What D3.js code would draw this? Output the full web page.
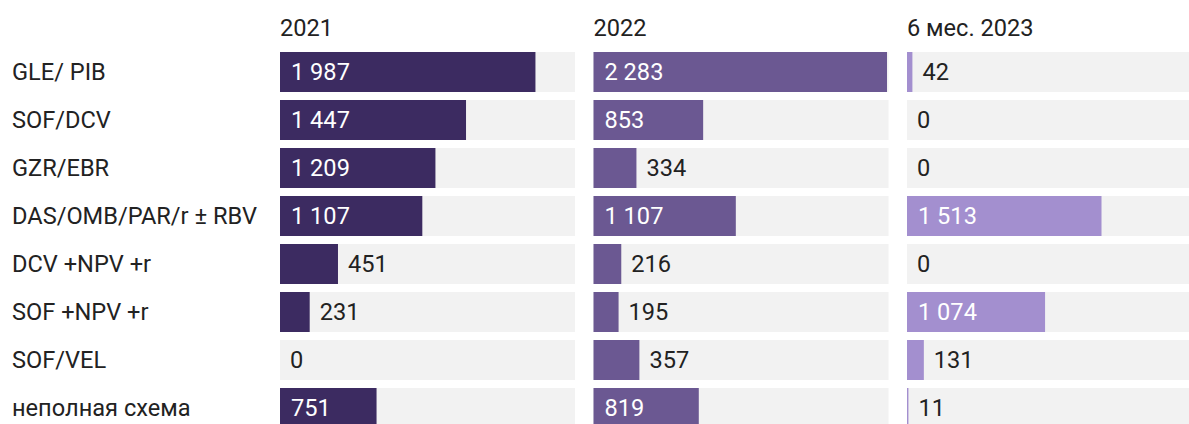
<!DOCTYPE html>
<html>
<head>
<meta charset="utf-8">
<script src="https://cdn.jsdelivr.net/npm/d3@7"></script>
<style>
  body { margin: 0; background: #fff; overflow: hidden; }
  text { font-family: Roboto, "Noto Sans", sans-serif; }
</style>
</head>
<body>
<div id="chart"></div>
<script>
// schemes and yearly counts
const categories = ["GLE/ PIB", "SOF/DCV", "GZR/EBR", "DAS/OMB/PAR/r ± RBV",
    "DCV +NPV +r", "SOF +NPV +r", "SOF/VEL", "неполная схема"];
const periods = ["2021", "2022", "6 мес. 2023"];
const values2021 = [1987, 1447, 1209, 1107, 451, 231, 0, 751];
const values2022 = [2283, 853, 334, 1107, 216, 195, 357, 819];
const values2023 = [42, 0, 0, 1513, 0, 1074, 131, 11];
const colors = ["#3c2b61", "#6b5892", "#a38fcf"];

const series = [values2021, values2022, values2023];

const W = 1189, H = 424;
const fontSize = "23.6px";
const svg = d3.select("#chart").append("svg")
    .attr("width", W).attr("height", H);

// row positions
const y = d3.scaleBand()
    .domain(categories)
    .range([48, 432])
    .paddingInner(1 / 6)
    .paddingOuter(1 / 12);

// one panel per period
const panelX = d3.scalePoint().domain(periods).range([280, 907]);
const panelW = 295;
const x = d3.scaleLinear().domain([0, 2283]).range([0, 293.5]);

const fmt = v => d3.format(",")(v).replace(/,/g, " ");

// row labels
svg.append("g").selectAll("text")
    .data(categories)
    .enter().append("text")
    .attr("x", 12)
    .attr("y", d => y(d) + y.bandwidth() / 2)
    .attr("dy", "0.35em")
    .style("font-size", fontSize)
    .style("fill", "#222")
    .text(d => d);

periods.forEach(function (p, pi) {
    const g = svg.append("g")
        .attr("transform", "translate(" + panelX(p) + ",0)");

    g.append("text")
        .attr("x", 0).attr("y", 36)
        .style("font-size", fontSize)
        .style("fill", "#222")
        .text(p);

    const rows = categories.map((c, i) => ({cat: c, v: series[pi][i]}));

    // gray tracks
    g.selectAll("rect.track")
        .data(rows).enter().append("rect")
        .attr("class", "track")
        .attr("x", 0)
        .attr("y", d => y(d.cat))
        .attr("width", panelW)
        .attr("height", y.bandwidth())
        .style("fill", "#f2f2f2");

    // bars
    g.selectAll("rect.bar")
        .data(rows).enter().append("rect")
        .attr("class", "bar")
        .attr("x", 0)
        .attr("y", d => y(d.cat))
        .attr("width", d => x(d.v))
        .attr("height", y.bandwidth())
        .style("fill", colors[pi]);

    // value labels, inside when the bar is wide enough
    g.selectAll("text.val")
        .data(rows).enter().append("text")
        .attr("class", "val")
        .attr("x", d => x(d.v) > 80 ? 11 : x(d.v) + 10)
        .attr("y", d => y(d.cat) + y.bandwidth() / 2)
        .attr("dy", "0.35em")
        .style("font-size", fontSize)
        .style("fill", d => x(d.v) > 80 ? "#fff" : "#222")
        .text(d => fmt(d.v));
});
</script>
</body>
</html>
